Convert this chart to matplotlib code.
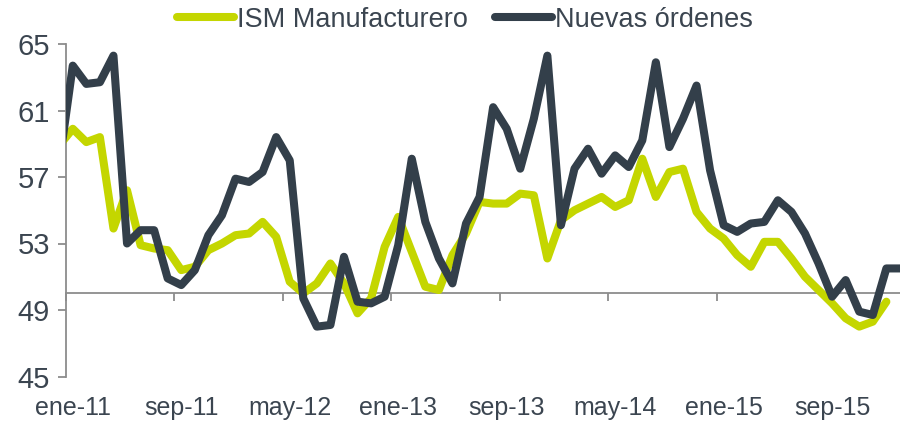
import matplotlib
matplotlib.use("Agg")
import matplotlib.pyplot as plt
import numpy as np

plt.rcParams['font.family'] = ['Liberation Sans', 'DejaVu Sans']

# Monthly categories: dic-10 ... feb-16 (first point is clipped by the axis)
start_index = -1
ism = [58.9, 59.9, 59.1, 59.4, 53.9, 56.2, 52.9, 52.7, 52.6, 51.4, 51.6,
       52.6, 53.0, 53.5, 53.6, 54.3, 53.4, 50.7, 50.0, 50.6, 51.8,
       50.6, 48.8, 49.7, 52.8, 54.6, 52.5, 50.4, 50.2, 52.3, 53.6,
       55.5, 55.4, 55.4, 56.0, 55.9, 52.1, 54.4, 55.0, 55.4, 55.8,
       55.2, 55.6, 58.1, 55.8, 57.3, 57.5, 54.9, 53.9, 53.3, 52.3,
       51.6, 53.1, 53.1, 52.1, 51.0, 50.2, 49.4, 48.5, 48.0, 48.3,
       49.5]
nuevas = [57.8, 63.7, 62.6, 62.7, 64.3, 53.0, 53.8, 53.8, 50.9, 50.5, 51.4,
          53.5, 54.7, 56.9, 56.7, 57.3, 59.4, 58.0, 49.7, 48.0, 48.1,
          52.2, 49.5, 49.4, 49.8, 52.9, 58.1, 54.3, 52.1, 50.6, 54.2,
          55.8, 61.2, 59.9, 57.5, 60.5, 64.3, 54.1, 57.5, 58.7, 57.2,
          58.3, 57.6, 59.2, 63.9, 58.8, 60.5, 62.5, 57.4, 54.1, 53.7,
          54.2, 54.3, 55.6, 54.9, 53.6, 51.8, 49.8, 50.8, 48.9, 48.7,
          51.5, 51.5]
tick_labels = ['ene-11', 'sep-11', 'may-12', 'ene-13', 'sep-13', 'may-14', 'ene-15', 'sep-15']
label_step = 8
y_ticks = [45, 49, 53, 57, 61, 65]
ref_level = 50

GREEN = '#C4D600'
DARK = '#333F4A'
GRAY = '#8C8C8C'
TEXT = '#3B4550'

fig = plt.figure(figsize=(9, 4.24), dpi=100)
ax = fig.add_axes([66/900, 47.5/424, 840.7/900, 332.5/424])

x_ism = np.arange(start_index, start_index + len(ism))
x_new = np.arange(start_index, start_index + len(nuevas))
ax.plot(x_ism, ism, color=GREEN, lw=5.8, solid_joinstyle='round',
        solid_capstyle='round', label='ISM Manufacturero', zorder=3)
ax.plot(x_new, nuevas, color=DARK, lw=5.8, solid_joinstyle='round',
        solid_capstyle='round', label='Nuevas órdenes', zorder=4)

ax.set_xlim(-0.5, 61.5)
ax.set_ylim(45, 65)

for s in ['top', 'right', 'bottom']:
    ax.spines[s].set_visible(False)
ax.spines['left'].set_color(GRAY)
ax.spines['left'].set_linewidth(1.3)

ax.set_yticks(y_ticks)
ax.tick_params(axis='y', direction='out', length=5.5, width=1.3, color=GRAY,
               labelsize=21, labelcolor=TEXT, pad=6)

label_pos = np.arange(len(tick_labels)) * label_step
ax.set_xticks(label_pos, labels=tick_labels)
ax.tick_params(axis='x', length=0, labelsize=18, labelcolor=TEXT, pad=14)

# category axis crossing at 50 with tick marks between categories
sec = ax.secondary_xaxis((ref_level - 45) / 20)
sec.set_xticks(np.arange(-0.5, 61.5, label_step), labels=[])
sec.tick_params(axis='x', direction='out', length=5.5, width=1.3, color=GRAY)
for s in sec.spines.values():
    s.set_color(GRAY)
    s.set_linewidth(1.3)

fig.legend(loc='center', bbox_to_anchor=(0.517, 0.953), ncol=2, frameon=False,
           fontsize=19.5, handlelength=2.1, handletextpad=0.12, columnspacing=1.0,
           labelcolor=TEXT)

fig.savefig('out.png', dpi=100)
